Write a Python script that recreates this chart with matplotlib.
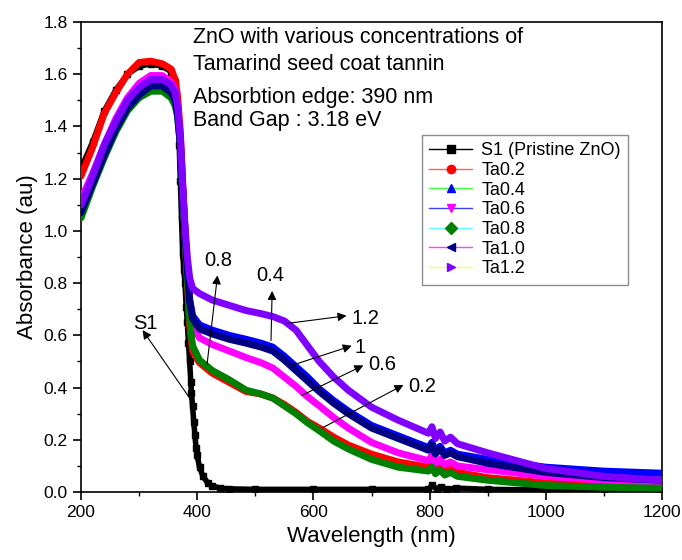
import matplotlib
matplotlib.use("Agg")
import matplotlib.pyplot as plt
from matplotlib.lines import Line2D
from matplotlib.ticker import MultipleLocator

plt.rcParams['font.family'] = ['Liberation Sans', 'DejaVu Sans']

# wavelength nodes (nm) shared by the tannin samples
wl = [200, 220, 240, 260, 280, 300, 320, 340, 355, 362, 366, 371, 375, 379, 383, 387, 392,
      404, 426, 455, 484, 510, 530, 550, 570, 590, 610, 635, 660, 700, 746, 798, 804, 810,
      818, 826, 836, 848, 900, 1000, 1100, 1200]

ta02 = [1.21, 1.32, 1.45, 1.53, 1.60, 1.645, 1.65, 1.64, 1.62, 1.58, 1.52, 1.38, 1.18, 1.0, 0.82,
        0.64, 0.54, 0.495, 0.455, 0.42, 0.385, 0.375, 0.36, 0.335, 0.305, 0.27, 0.245, 0.21,
        0.18, 0.145, 0.115, 0.095, 0.11, 0.085, 0.10, 0.08, 0.09, 0.075, 0.055, 0.035, 0.025, 0.02]
ta04 = [1.09, 1.20, 1.31, 1.41, 1.49, 1.54, 1.565, 1.565, 1.54, 1.51, 1.46, 1.34, 1.16, 1.0, 0.86,
        0.74, 0.675, 0.64, 0.62, 0.60, 0.585, 0.57, 0.555, 0.52, 0.48, 0.44, 0.395, 0.35, 0.31,
        0.255, 0.215, 0.17, 0.19, 0.155, 0.175, 0.15, 0.16, 0.145, 0.125, 0.095, 0.08, 0.072]
ta06 = [1.12, 1.22, 1.33, 1.43, 1.51, 1.565, 1.595, 1.595, 1.57, 1.54, 1.48, 1.35, 1.16, 0.99, 0.84,
        0.72, 0.645, 0.59, 0.565, 0.54, 0.515, 0.495, 0.475, 0.44, 0.405, 0.365, 0.33, 0.285,
        0.245, 0.19, 0.15, 0.12, 0.14, 0.11, 0.125, 0.105, 0.115, 0.10, 0.085, 0.06, 0.045, 0.035]
ta08 = [1.05, 1.17, 1.28, 1.38, 1.46, 1.51, 1.535, 1.535, 1.51, 1.48, 1.44, 1.33, 1.15, 0.98, 0.82,
        0.66, 0.56, 0.505, 0.465, 0.43, 0.39, 0.375, 0.36, 0.33, 0.30, 0.265, 0.235, 0.195,
        0.165, 0.125, 0.095, 0.08, 0.095, 0.07, 0.085, 0.065, 0.075, 0.06, 0.045, 0.025, 0.018, 0.015]
ta10 = [1.07, 1.18, 1.29, 1.39, 1.47, 1.52, 1.555, 1.555, 1.53, 1.50, 1.45, 1.33, 1.15, 0.99, 0.85,
        0.73, 0.665, 0.625, 0.605, 0.585, 0.57, 0.555, 0.54, 0.505, 0.465, 0.425, 0.385, 0.34,
        0.30, 0.245, 0.205, 0.16, 0.18, 0.145, 0.165, 0.14, 0.15, 0.135, 0.11, 0.075, 0.055, 0.045]
ta12 = [1.10, 1.21, 1.33, 1.42, 1.50, 1.55, 1.58, 1.58, 1.56, 1.53, 1.48, 1.36, 1.18, 1.02, 0.90,
        0.82, 0.78, 0.76, 0.735, 0.715, 0.695, 0.683, 0.672, 0.655, 0.62, 0.56, 0.50, 0.44,
        0.39, 0.325, 0.275, 0.225, 0.25, 0.205, 0.23, 0.195, 0.21, 0.185, 0.15, 0.09, 0.06, 0.045]

# pristine ZnO
wl_s1 = [200, 220, 240, 260, 280, 300, 320, 340, 355, 362, 366, 369, 371, 373, 375, 377, 379, 381,
         383, 385, 387, 389, 390, 392, 394, 396, 398, 400, 404, 410, 418, 426, 440, 455, 500, 600,
         700, 798, 804, 812, 820, 830, 845, 900, 1000, 1100, 1200]
s1 = [1.24, 1.34, 1.46, 1.54, 1.60, 1.63, 1.64, 1.63, 1.61, 1.57, 1.48, 1.33, 1.19, 1.05, 0.91,
      0.85, 0.80, 0.71, 0.65, 0.57, 0.50, 0.42, 0.38, 0.33, 0.27, 0.22, 0.17, 0.14, 0.095, 0.06,
      0.035, 0.022, 0.015, 0.012, 0.01, 0.01, 0.01, 0.01, 0.025, 0.012, 0.02, 0.01, 0.015, 0.01,
      0.008, 0.006, 0.005]

labels = ["S1 (Pristine ZnO)", "Ta0.2", "Ta0.4", "Ta0.6", "Ta0.8", "Ta1.0", "Ta1.2"]
series = [s1, ta02, ta04, ta06, ta08, ta10, ta12]
marker_colors = ["black", "red", "blue", "magenta", "#008000", "#000080", "#8000ff"]
line_colors = ["black", "#ff6060", "#40ff40", "#4040ff", "#60ffff", "#ff40ff", "#ffff40"]
markers = ["s", "o", "^", "v", "D", "<", ">"]

fig = plt.figure(figsize=(6.82, 5.6), dpi=100)
ax = fig.add_axes([81/682, 68/560, 581/682, 470/560])

ax.plot(wl_s1, s1, color="black", lw=4, marker="s", ms=4, zorder=2)
for i in range(1, 7):
    ax.plot(wl, series[i], color=marker_colors[i], lw=5, solid_capstyle="round",
            solid_joinstyle="round", zorder=2 + i)

ax.set_xlim(200, 1200)
ax.set_ylim(0, 1.8)
ax.xaxis.set_major_locator(MultipleLocator(200))
ax.xaxis.set_minor_locator(MultipleLocator(100))
ax.yaxis.set_major_locator(MultipleLocator(0.2))
ax.yaxis.set_minor_locator(MultipleLocator(0.1))
ax.yaxis.set_major_formatter(matplotlib.ticker.FormatStrFormatter('%.1f'))
ax.tick_params(which="major", direction="out", length=6, width=1.2, labelsize=12.5)
ax.tick_params(which="minor", direction="out", length=3, width=1.0)
for sp in ax.spines.values():
    sp.set_linewidth(1.2)
ax.set_xlabel("Wavelength (nm)", fontsize=16)
ax.set_ylabel("Absorbance (au)", fontsize=16)

handles = [Line2D([], [], color=line_colors[i], lw=1, marker=markers[i], ms=6,
                  markerfacecolor=marker_colors[i], markeredgecolor=marker_colors[i])
           for i in range(7)]
leg = ax.legend(handles, labels, loc="upper left", bbox_to_anchor=(0.571, 0.779), fontsize=13,
                frameon=True, fancybox=False, edgecolor="#707070", labelspacing=0.15,
                handlelength=2.4, borderpad=0.4, handletextpad=0.5)
leg.get_frame().set_linewidth(1.0)

ax.text(392, 1.718, "ZnO with various concentrations of", fontsize=15.5, va="baseline")
ax.text(392, 1.618, "Tamarind seed coat tannin", fontsize=15.5, va="baseline")
ax.text(392, 1.489, "Absorbtion edge: 390 nm", fontsize=15.5, va="baseline")
ax.text(392, 1.400, "Band Gap : 3.18 eV", fontsize=15.5, va="baseline")

# arrow annotations: (label, text x, text baseline y, tail, head, ha)
notes = [("S1", 310, 0.626, (390, 0.35), (306, 0.62), "center"),
         ("0.8", 436, 0.866, (417, 0.49), (435, 0.83), "center"),
         ("0.4", 525, 0.809, (527, 0.58), (529, 0.77), "center"),
         ("1.2", 666, 0.645, (553, 0.645), (657, 0.675), "left"),
         ("1", 670, 0.534, (563, 0.485), (666, 0.56), "left"),
         ("0.6", 695, 0.466, (580, 0.37), (686, 0.485), "left"),
         ("0.2", 763, 0.382, (615, 0.245), (755, 0.41), "left")]
for txt, tx, ty, tail, head, ha in notes:
    ax.annotate("", xy=head, xytext=tail,
                arrowprops=dict(arrowstyle="-|>", color="black", lw=0.8, mutation_scale=13,
                                shrinkA=0, shrinkB=0), zorder=10)
    ax.text(tx, ty, txt, fontsize=14.5, ha=ha, va="baseline", zorder=10)

fig.savefig("out.png", dpi=100)
